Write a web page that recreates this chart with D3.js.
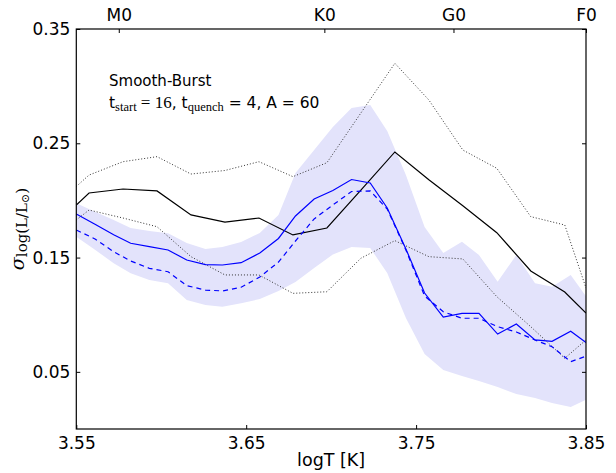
<!DOCTYPE html>
<html><head><meta charset="utf-8">
<script src="https://cdn.jsdelivr.net/npm/d3@7"></script>
<style>body{margin:0;background:#fff}svg{display:block}</style>
</head><body><svg id="c" width="616" height="473" font-family="DejaVu Sans"></svg>
<script>
// ---- data ----
const blackX = [3.55,3.5575,3.5775,3.5975,3.6175,3.6375,3.6575,3.6775,3.6975,3.7175,3.7375,3.7575,3.7775,3.7975,3.8175,3.8375,3.85];
const obsMedian = [0.196,0.2065,0.210,0.2083,0.1873,0.1811,0.1846,0.1698,0.1759,0.2091,0.2424,0.2181,0.1953,0.1718,0.1383,0.1199,0.1015];
const obsUpper = [0.2122,0.2222,0.2339,0.2383,0.2231,0.2262,0.2339,0.2208,0.2330,0.2765,0.3200,0.2879,0.2441,0.2281,0.1858,0.1785,0.1234];
const obsLower = [0.1829,0.1916,0.1846,0.1770,0.1508,0.1348,0.1348,0.1187,0.1201,0.1494,0.1648,0.1508,0.1488,0.1158,0.0895,0.0619,0.0779];
const modelX = [3.550,3.561,3.572,3.582,3.593,3.604,3.615,3.626,3.636,3.647,3.658,3.669,3.679,3.690,3.701,3.712,3.723,3.733,3.744,3.755,3.766,3.777,3.787,3.798,3.809,3.820,3.830,3.841,3.852];
const modelSolid = [0.1881,0.1791,0.1700,0.1625,0.1595,0.1566,0.1479,0.1438,0.1435,0.1455,0.1540,0.1667,0.1864,0.2013,0.2087,0.2183,0.2153,0.1934,0.1575,0.1190,0.0980,0.1012,0.1012,0.0831,0.0919,0.0779,0.0767,0.0855,0.0735];
const modelDashed = [0.1741,0.1663,0.1551,0.1470,0.1406,0.1376,0.1254,0.1216,0.1208,0.1240,0.1330,0.1461,0.1645,0.1838,0.1960,0.2078,0.2083,0.1925,0.1566,0.1164,0.1026,0.0969,0.0969,0.0895,0.0849,0.0779,0.0720,0.0589,0.0648];
const bandHigh = [0.1975,0.1901,0.1829,0.1759,0.1732,0.1712,0.1627,0.1575,0.1592,0.1636,0.1715,0.1872,0.2240,0.2441,0.2642,0.2809,0.2835,0.2607,0.2222,0.1767,0.1540,0.1639,0.1522,0.1289,0.1522,0.1275,0.1245,0.1347,0.1120];
const bandLow = [0.1683,0.1569,0.1450,0.1362,0.1304,0.1275,0.1129,0.1085,0.1070,0.1100,0.1137,0.1207,0.1286,0.1409,0.1527,0.1592,0.1584,0.1365,0.0971,0.0656,0.0516,0.0464,0.0420,0.0367,0.0306,0.0271,0.0227,0.0192,0.0271];
const xTicks = [3.55,3.65,3.75,3.85];
const yTicks = [0.05,0.15,0.25,0.35];
const specTypes = ["M0","K0","G0","F0"];
const specPos = [3.575,3.696,3.772,3.85];

// ---- chart ----
const L=76.3,R=586,T=29,B=429;
const svg=d3.select("#c");
const x=d3.scaleLinear().domain([3.55,3.85]).range([L,R]);
const y=d3.scaleLinear().domain([0,0.35]).range([B,T]);
svg.append("clipPath").attr("id","clip").append("rect").attr("x",L).attr("y",T).attr("width",R-L).attr("height",B-T);
const g=svg.append("g").attr("clip-path","url(#clip)");

const band=modelX.map((v,i)=>({x:v,lo:bandLow[i],hi:bandHigh[i]}));
g.append("path").datum(band).attr("fill","#e3e3fb").attr("stroke","none")
 .attr("d",d3.area().x(d=>x(d.x)).y0(d=>y(d.lo)).y1(d=>y(d.hi)));

const line=(xs,ys)=>d3.line().x((d,i)=>x(xs[i])).y(d=>y(d))(ys);
g.append("path").attr("d",line(blackX,obsUpper)).attr("fill","none").attr("stroke","#333").attr("stroke-width",1).attr("stroke-dasharray","1,2");
g.append("path").attr("d",line(blackX,obsLower)).attr("fill","none").attr("stroke","#333").attr("stroke-width",1).attr("stroke-dasharray","1,2");
g.append("path").attr("d",line(blackX,obsMedian)).attr("fill","none").attr("stroke","#000").attr("stroke-width",1.2);
g.append("path").attr("d",line(modelX,modelSolid)).attr("fill","none").attr("stroke","#0000ff").attr("stroke-width",1.2);
g.append("path").attr("d",line(modelX,modelDashed)).attr("fill","none").attr("stroke","#0000ff").attr("stroke-width",1.2).attr("stroke-dasharray","5,4");

// axes
const bottom=d3.axisBottom(x).tickValues(xTicks).tickSizeInner(-4).tickSizeOuter(0).tickPadding(8).tickFormat(d3.format(".2f"));
const left=d3.axisLeft(y).tickValues(yTicks).tickSizeInner(-4).tickSizeOuter(0).tickPadding(6).tickFormat(d3.format(".2f"));
const right=d3.axisRight(y).tickValues(yTicks).tickSizeInner(-4).tickSizeOuter(0).tickFormat("");
const topAx=d3.axisTop(x).tickValues(specPos).tickSizeInner(-4).tickSizeOuter(0).tickPadding(8).tickFormat((d,i)=>specTypes[i]);
function style(sel){sel.select(".domain").remove();sel.selectAll("line").attr("stroke","#000");sel.selectAll("text").attr("font-family","DejaVu Sans").attr("font-size",17).attr("fill","#000");}
svg.append("g").attr("transform",`translate(0,${B})`).call(bottom).call(style);
svg.append("g").attr("transform",`translate(${L},0)`).call(left).call(style);
svg.append("g").attr("transform",`translate(${R},0)`).call(right).call(style);
svg.append("g").attr("transform",`translate(0,${T})`).call(topAx).call(style);
svg.append("rect").attr("x",L).attr("y",T).attr("width",R-L).attr("height",B-T).attr("fill","none").attr("stroke","#000").attr("stroke-width",1.2);

// labels
svg.append("text").attr("x",(L+R)/2).attr("y",466).attr("text-anchor","middle").attr("font-family","DejaVu Sans").attr("font-size",17.5).text("logT [K]");
const yl=svg.append("text").attr("transform","translate(24,229) rotate(-90)").attr("text-anchor","middle").attr("font-family","DejaVu Serif").attr("font-size",19);
yl.append("tspan").attr("font-style","italic").text("σ");
yl.append("tspan").attr("dy",3).attr("font-size",15).text("log(L/L");
yl.append("tspan").attr("dy",2).attr("font-size",11).text("⊙");
yl.append("tspan").attr("dy",-2).attr("font-size",15).text(")");

svg.append("text").attr("x",109).attr("y",86).attr("font-family","DejaVu Sans").attr("font-size",15).text("Smooth-Burst");
const t2=svg.append("text").attr("x",109).attr("y",108).attr("font-family","DejaVu Sans").attr("font-size",15.5);
t2.append("tspan").text("t");
t2.append("tspan").attr("dy",3).attr("font-family","Liberation Serif").attr("font-size",12.5).text("start");
t2.append("tspan").attr("dy",-3).attr("font-family","Liberation Serif").attr("font-size",17).text(" = 16");
t2.append("tspan").text(", t");
t2.append("tspan").attr("dy",3).attr("font-family","Liberation Serif").attr("font-size",12.5).text("quench");
t2.append("tspan").attr("dy",-3).text(" = 4, A = 60");
</script></body></html>
